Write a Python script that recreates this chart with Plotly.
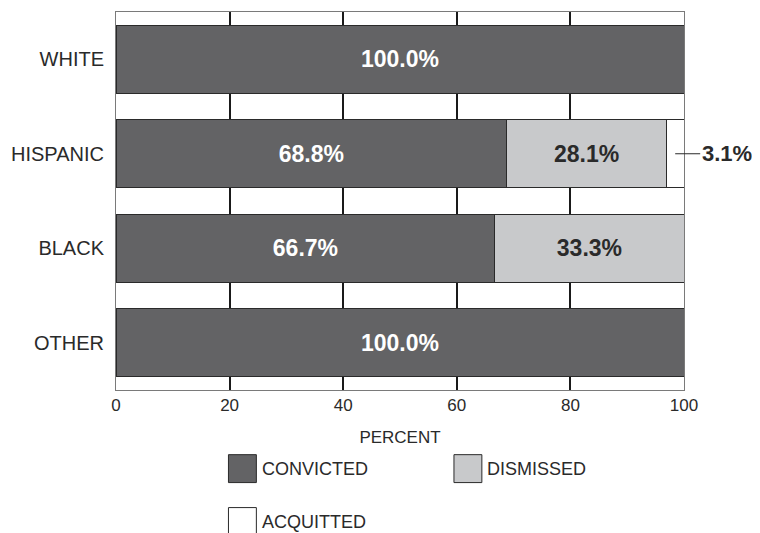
import plotly.graph_objects as go

categories = ["WHITE", "HISPANIC", "BLACK", "OTHER"]
convicted = [100.0, 68.8, 66.7, 100.0]
dismissed = [0.0, 28.1, 33.3, 0.0]
acquitted = [0.0, 3.1, 0.0, 0.0]
x_ticks = [0, 20, 40, 60, 80, 100]

C_CONV = "#636365"
C_DISM = "#c8c9cb"
C_ACQ = "#ffffff"
FONT = "Liberation Sans, Arial, sans-serif"

def labels(vals):
    return [f"{v:.1f}%" if v > 0 else "" for v in vals]

fig = go.Figure()
fig.add_trace(go.Bar(
    y=categories, x=convicted, orientation="h", name="CONVICTED",
    marker=dict(color=C_CONV, line=dict(color="#2a2a2a", width=1)),
    text=labels(convicted), textposition="inside",
    insidetextanchor="middle",
    textfont=dict(color="white", size=23, family=FONT, weight="bold"),
))
fig.add_trace(go.Bar(
    y=categories, x=dismissed, orientation="h", name="DISMISSED",
    marker=dict(color=C_DISM, line=dict(color="#2a2a2a", width=1)),
    text=labels(dismissed), textposition="inside",
    insidetextanchor="middle",
    textfont=dict(color="#2a2a2a", size=23, family=FONT, weight="bold"),
))
fig.add_trace(go.Bar(
    y=categories, x=acquitted, orientation="h", name="ACQUITTED",
    marker=dict(color=C_ACQ, line=dict(color="#2a2a2a", width=1)),
    text=[""] * len(categories), textposition="none",
))

# outside label for small acquitted segment
for cat, c, d, a in zip(categories, convicted, dismissed, acquitted):
    if a > 0:
        fig.add_annotation(
            x=c + d + a / 2, y=cat, xref="x", yref="y",
            text=f"<b>{a:.1f}%</b>", showarrow=True, arrowhead=0,
            arrowwidth=1, arrowcolor="#2a2a2a", ax=25, ay=0,
            font=dict(size=22, family=FONT, color="#2a2a2a"),
            xanchor="left", standoff=0, startstandoff=0,
        )

fig.update_layout(
    barmode="stack", bargap=0.28,
    width=760, height=533,
    margin=dict(l=106, r=84, t=3, b=151),
    paper_bgcolor="white", plot_bgcolor="white",
    showlegend=False,
    font=dict(family=FONT, size=17, color="#2a2a2a"),
)
fig.update_xaxes(
    range=[0, 100], tickvals=x_ticks, ticktext=[str(t) for t in x_ticks],
    showgrid=True, gridcolor="#1a1a1a", gridwidth=2, zeroline=False,
    showline=True, linecolor="#7a7a7a", linewidth=1, mirror=True,
    ticks="", tickfont=dict(size=17),
    title=dict(text="PERCENT", font=dict(size=17), standoff=16),
)
fig.update_yaxes(
    categoryorder="array", categoryarray=categories[::-1],
    showgrid=False, zeroline=False,
    showline=True, linecolor="#7a7a7a", linewidth=1, mirror=True,
    ticks="", tickfont=dict(size=20), ticklabelstandoff=7,
)

# custom legend
legend_items = [("CONVICTED", C_CONV, 0.198, -0.208), ("DISMISSED", C_DISM, 0.595, -0.208),
                ("ACQUITTED", C_ACQ, 0.198, -0.348)]
sq_w = 28 / 570
sq_h = 28 / 379
for name, col, px, py in legend_items:
    fig.add_shape(type="rect", xref="paper", yref="paper",
                  x0=px, x1=px + sq_w, y0=py - sq_h / 2, y1=py + sq_h / 2,
                  fillcolor=col, line=dict(color="#2a2a2a", width=1))
    fig.add_annotation(xref="paper", yref="paper", x=px + sq_w + 0.006, y=py,
                       text=name, showarrow=False, xanchor="left", yanchor="middle",
                       font=dict(size=18, family=FONT, color="#2a2a2a"))

fig.write_html("out.html")
